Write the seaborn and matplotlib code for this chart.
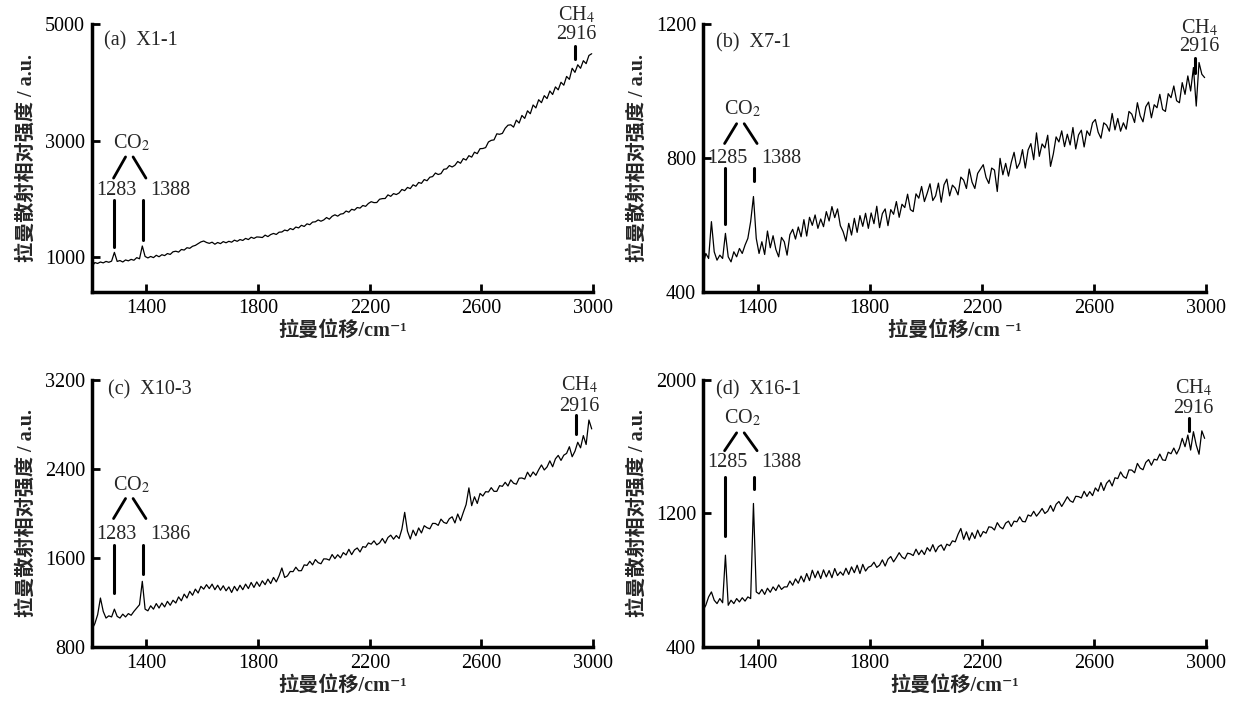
"""
四个包裹体样品的拉曼光谱 (CO2 / CH4 特征峰)
"""

import numpy as np
import matplotlib
matplotlib.use("Agg")
import matplotlib.pyplot as plt
import seaborn as sns

# 拉曼位移 (cm-1), 每 10 cm-1 一个点
wavenumber = np.arange(1205, 3000, 10)

# (a) X1-1
spec_a = [
    840, 905, 890, 915, 900, 925, 910, 930, 1080, 925,
    940, 915, 950, 935, 960, 945, 990, 970, 1190, 1010,
    985, 1010, 990, 1030, 1005, 1040, 1025, 1060, 1045, 1090,
    1100, 1085, 1130, 1120, 1160, 1150, 1185, 1200, 1230, 1260,
    1275, 1250, 1235, 1255, 1220, 1250, 1230, 1265, 1245, 1270,
    1255, 1290, 1270, 1300, 1285, 1320, 1300, 1340, 1320, 1345,
    1342, 1335, 1376, 1351, 1386, 1405, 1388, 1427, 1430, 1463,
    1450, 1490, 1470, 1515, 1500, 1545, 1525, 1570, 1555, 1600,
    1605, 1637, 1615, 1637, 1678, 1650, 1700, 1725, 1702, 1737,
    1745, 1790, 1770, 1820, 1805, 1850, 1840, 1885, 1870, 1920,
    1950, 1934, 1936, 1992, 2003, 2005, 2067, 2042, 2089, 2073,
    2100, 2160, 2140, 2195, 2175, 2240, 2215, 2280, 2265, 2330,
    2310, 2370, 2381, 2442, 2417, 2432, 2506, 2514, 2570, 2546,
    2575, 2640, 2610, 2690, 2665, 2740, 2715, 2800, 2775, 2860,
    2863, 2879, 2975, 3003, 3011, 3115, 3107, 3123, 3211, 3263,
    3270, 3230, 3350, 3300, 3430, 3380, 3510, 3460, 3610, 3560,
    3700, 3650, 3770, 3720, 3850, 3790, 3920, 3870, 4000, 3950,
    4100, 4050, 4240, 4170, 4300, 4240, 4370, 4320, 4460, 4490,
]

# (b) X7-1
spec_b = [
    480, 515, 500, 610, 520, 495, 510, 500, 575, 505,
    490, 520, 505, 530, 515, 540, 560, 610, 685, 560,
    515, 550, 512, 582, 532, 568, 527, 505, 563, 550,
    510, 571, 587, 558, 594, 565, 616, 567, 623, 599,
    630, 590, 618, 595, 640, 612, 655, 622, 648, 598,
    580, 552, 605, 570, 620, 578, 628, 596, 635, 590,
    636, 604, 656, 592, 634, 648, 598, 646, 632, 670,
    623, 662, 652, 692, 646, 640, 693, 680, 715, 670,
    695, 723, 673, 687, 725, 668, 720, 737, 687, 719,
    710, 690, 743, 734, 709, 767, 728, 709, 754, 767,
    780, 742, 724, 770, 764, 700, 799, 750, 784, 746,
    787, 817, 769, 785, 825, 770, 824, 843, 795, 875,
    805, 842, 830, 868, 775, 812, 863, 848, 881, 834,
    871, 839, 891, 827, 869, 883, 833, 881, 867, 905,
    915, 877, 859, 905, 898, 880, 933, 884, 918, 880,
    905, 886, 939, 931, 906, 965, 926, 908, 953, 967,
    920, 959, 950, 990, 945, 939, 992, 980, 1015, 971,
    965, 1025, 990, 1045, 1000, 1070, 955, 1085, 1050, 1040,
]

# (c) X10-3
spec_c = [
    960, 1010, 1090, 1240, 1120, 1060, 1080, 1070, 1140, 1075,
    1060, 1095, 1070, 1100, 1085, 1120, 1150, 1180, 1390, 1140,
    1125, 1170, 1140, 1190, 1150, 1195, 1160, 1210, 1175, 1220,
    1195, 1250, 1215, 1275, 1240, 1300, 1265, 1320, 1285, 1345,
    1320, 1360, 1325, 1365, 1315, 1355, 1310, 1350, 1305, 1340,
    1290, 1345, 1305, 1355, 1315, 1365, 1325, 1380, 1335, 1385,
    1345, 1395, 1360, 1410, 1370, 1425, 1385, 1440, 1510, 1425,
    1439, 1479, 1477, 1517, 1485, 1486, 1538, 1533, 1570, 1538,
    1586, 1558, 1548, 1592, 1591, 1581, 1631, 1594, 1629, 1601,
    1648, 1627, 1678, 1630, 1672, 1690, 1654, 1702, 1696, 1735,
    1724, 1754, 1718, 1736, 1775, 1733, 1784, 1805, 1769, 1802,
    1775, 1860, 2010, 1840, 1770, 1850, 1800, 1870, 1825, 1890,
    1872, 1862, 1911, 1910, 1893, 1949, 1920, 1910, 1953, 1970,
    1915, 1995, 1935, 2010, 2080, 2230, 2070, 2150, 2090, 2180,
    2157, 2196, 2193, 2232, 2199, 2199, 2250, 2244, 2280, 2247,
    2302, 2272, 2263, 2317, 2319, 2309, 2371, 2330, 2373, 2343,
    2393, 2436, 2391, 2418, 2473, 2420, 2491, 2522, 2477, 2524,
    2540, 2600, 2510, 2560, 2640, 2590, 2700, 2620, 2840, 2760,
]

# (d) X16-1
spec_d = [
    620, 650, 700, 730, 680, 660, 690, 665, 950, 650,
    680, 660, 690, 670, 695, 675, 700, 690, 1260, 730,
    718, 745, 715, 752, 728, 760, 738, 772, 745, 760,
    760, 795, 770, 808, 782, 825, 790, 840, 798, 860,
    815, 855, 810, 862, 820, 858, 815, 870, 828, 850,
    830, 872, 835, 880, 845, 890, 840, 895, 855, 878,
    885, 908, 877, 890, 922, 885, 926, 942, 910, 936,
    965, 939, 928, 962, 958, 948, 986, 953, 980, 954,
    995, 974, 1013, 970, 1001, 1012, 979, 1016, 1007, 1036,
    1030, 1075, 1110, 1045, 1090, 1040, 1085, 1050, 1100, 1060,
    1092, 1082, 1120, 1117, 1101, 1145, 1119, 1108, 1142, 1154,
    1122, 1154, 1150, 1180, 1152, 1150, 1191, 1184, 1213, 1184,
    1205, 1230, 1200, 1214, 1248, 1213, 1255, 1272, 1242, 1270,
    1300, 1276, 1267, 1303, 1301, 1293, 1333, 1302, 1331, 1307,
    1353, 1333, 1385, 1338, 1381, 1400, 1365, 1414, 1409, 1449,
    1421, 1411, 1461, 1460, 1444, 1500, 1472, 1462, 1506, 1523,
    1489, 1525, 1520, 1556, 1521, 1518, 1567, 1558, 1592, 1556,
    1590, 1650, 1600, 1670, 1580, 1690, 1610, 1555, 1695, 1650,
]

panel_titles = ["(a)  X1-1", "(b)  X7-1", "(c)  X10-3", "(d)  X16-1"]
x_labels = ["拉曼位移/cm⁻¹", "拉曼位移/cm ⁻¹", "拉曼位移/cm⁻¹", "拉曼位移/cm⁻¹"]
co2_peaks = [(1283, 1388), (1285, 1388), (1283, 1386), (1285, 1388)]
y_limits = [(400, 5000), (400, 1200), (800, 3200), (400, 2000)]
y_ticks = [[1000, 3000, 5000], [400, 800, 1200], [800, 1600, 2400, 3200], [400, 1200, 2000]]
x_ticks = [1400, 1800, 2200, 2600, 3000]

sns.set_style("ticks")
plt.rcParams["font.family"] = ["Liberation Serif", "DejaVu Serif", "Noto Sans CJK SC"]
plt.rcParams["mathtext.fontset"] = "stix"

fig = plt.figure(figsize=(12.39, 7.06), dpi=100)
ax_rects = [
    [0.0743, 0.5864, 0.4044, 0.3796],
    [0.5674, 0.5864, 0.4060, 0.3796],
    [0.0743, 0.0836, 0.4044, 0.3782],
    [0.5674, 0.0836, 0.4060, 0.3782],
]

# 标注位置 (y 为坐标轴比例)
title_pos = [(1247, 0.936), (1250, 0.93), (1262, 0.963), (1250, 0.963)]
co2_text_y = [0.556, 0.683, 0.605, 0.858]
diag_y = [(0.504, 0.425), (0.628, 0.554), (0.556, 0.481), (0.802, 0.735)]
num_y = [0.38, 0.499, 0.42, 0.691]
vline_left = [(0.343, 0.168), (0.462, 0.252), (0.383, 0.204), (0.636, 0.414)]
vline_right = [(0.343, 0.194), (0.462, 0.413), (0.383, 0.272), (0.636, 0.59)]
ch4_x = [(2940, 2935), (2975, 2960), (2950, 2939), (2955, 2938)]
ch4_y = [(1.035, 0.962, 0.917, 0.868), (0.985, 0.915, 0.874, 0.819),
         (0.98, 0.901, 0.87, 0.796), (0.97, 0.895, 0.858, 0.809)]

spectra = [spec_a, spec_b, spec_c, spec_d]
fs = 14.5

for i, spec in enumerate(spectra):
    ax = fig.add_axes(ax_rects[i])
    sns.lineplot(x=wavenumber, y=spec, ax=ax, color="black", linewidth=0.9)
    ax.set_xlim(1205, 3000)
    ax.set_ylim(*y_limits[i])
    ax.set_xticks(x_ticks)
    ax.set_yticks(y_ticks[i])
    ax.tick_params(direction="in", length=6, width=2, labelsize=fs, colors="black", pad=5)
    for side in ["top", "right"]:
        ax.spines[side].set_visible(False)
    for side in ["left", "bottom"]:
        ax.spines[side].set_linewidth(2.5)
        ax.spines[side].set_color("black")
    ax.set_ylabel("拉曼散射相对强度 / a.u.", fontsize=fs, fontweight="bold", labelpad=6)
    ax.set_xlabel(x_labels[i], fontsize=fs, fontweight="bold", labelpad=2)

    tr = ax.get_xaxis_transform()
    tx, ty = title_pos[i]
    ax.text(tx, ty, panel_titles[i], transform=tr, fontsize=fs, va="center", ha="left")

    p1, p2 = co2_peaks[i]
    ax.text(1345, co2_text_y[i], "CO$_2$", transform=tr, fontsize=fs, ha="center", va="center")
    d0, d1 = diag_y[i]
    ax.plot([1325, 1282], [d0, d1], transform=tr, color="black", lw=2, clip_on=False)
    ax.plot([1352, 1398], [d0, d1], transform=tr, color="black", lw=2, clip_on=False)
    ax.text(1292, num_y[i], str(p1), transform=tr, fontsize=fs, ha="center", va="center")
    ax.text(1485, num_y[i], str(p2), transform=tr, fontsize=fs, ha="center", va="center")
    ax.plot([p1, p1], vline_left[i], transform=tr, color="black", lw=2.2, clip_on=False)
    ax.plot([p2, p2], vline_right[i], transform=tr, color="black", lw=2.2, clip_on=False)

    cx, tick_x = ch4_x[i]
    c0, c1, c2, c3 = ch4_y[i]
    ax.text(cx, c0, "CH$_4$", transform=tr, fontsize=fs, ha="center", va="center")
    ax.text(cx, c1, "2916", transform=tr, fontsize=fs, ha="center", va="center")
    ax.plot([tick_x, tick_x], [c2, c3], transform=tr, color="black", lw=2.2, clip_on=False)

fig.savefig("out.png", dpi=100)
